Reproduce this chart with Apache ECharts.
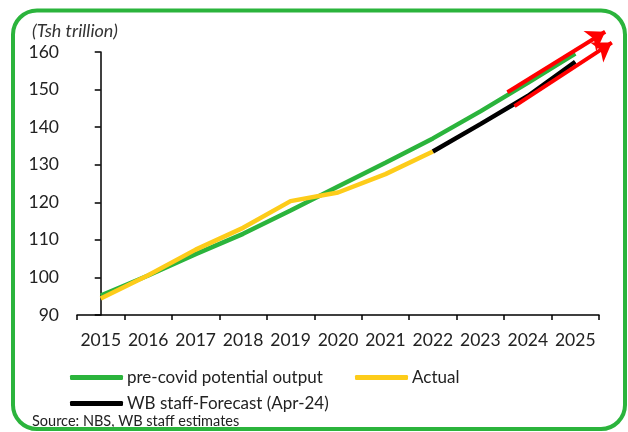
<!DOCTYPE html>
<html>
<head>
<meta charset="utf-8">
<script src="https://cdn.jsdelivr.net/npm/echarts@6/dist/echarts.min.js"></script>
<style>
  html, body { margin: 0; padding: 0; background: #fff; }
  #graph1 { width: 628px; height: 432px; }
</style>
</head>
<body>
<div id="graph1"></div>
<script>
// years on the x axis
var years = ['2015', '2016', '2017', '2018', '2019', '2020', '2021', '2022', '2023', '2024', '2025'];
// pre-covid potential output
var potential = [95.2, 100.5, 106.2, 111.6, 117.8, 124.2, 130.5, 137.0, 144.2, 151.8, 159.6];
// actual
var actual = [94.4, 100.6, 107.4, 113.2, 120.3, 122.6, 127.5, 133.5];
// WB staff forecast (Apr-24)
var forecast = [null, null, null, null, null, null, null, 133.5, 140.8, 148.3, 157.4];
// red arrows, [year index, value] start -> tip
var arrowUpper = [[8.57, 149.3], [10.63, 165.4]];
var arrowLower = [[8.72, 145.6], [10.77, 162.5]];

var fontName = 'Lato';
var greenCol = '#2bb43c';
var yellowCol = '#fdcc1a';

function drawChart() {
    var myChart = echarts.init(document.getElementById('graph1'));

    var legendBase = {
        orient: 'horizontal',
        padding: 0,
        itemWidth: 53,
        itemHeight: 5,
        itemGap: 6,
        icon: 'roundRect',
        textStyle: { fontFamily: fontName, fontSize: 17, color: '#222', padding: [0, 0, 0, -1] }
    };

    var option = {
        animation: false,
        backgroundColor: '#fff',
        title: [
            {
                text: '(Tsh trillion)',
                left: 32, top: 22, padding: 0,
                textStyle: { fontFamily: fontName, fontSize: 18, fontStyle: 'italic', fontWeight: 'normal', color: '#333' }
            },
            {
                text: 'Source: NBS, WB staff estimates',
                left: 32, top: 414, padding: 0,
                textStyle: { fontFamily: fontName, fontSize: 14.5, fontWeight: 'normal', color: '#222' }
            }
        ],
        legend: [
            Object.assign({ left: 70, top: 369, data: ['pre-covid potential output'] }, legendBase),
            Object.assign({ left: 355, top: 369, data: ['Actual'] }, legendBase),
            Object.assign({ left: 70, top: 395, data: ['WB staff-Forecast (Apr-24)'] }, legendBase)
        ],
        grid: { left: 77, right: 29, top: 52, bottom: 117, containLabel: false },
        xAxis: [
            {
                type: 'category',
                data: years,
                boundaryGap: true,
                axisLine: { lineStyle: { color: '#000', width: 1.5 } },
                axisTick: { show: true, length: 5, inside: false, lineStyle: { color: '#000', width: 1.5 } },
                axisLabel: { fontFamily: fontName, fontSize: 17.5, color: '#222', margin: 16, interval: 0 },
                splitLine: { show: false }
            },
            {
                type: 'value',
                min: -0.5,
                max: 10.5,
                show: false
            }
        ],
        yAxis: {
            type: 'value',
            min: 90,
            max: 160,
            interval: 10,
            axisLine: { show: true, lineStyle: { color: '#000', width: 1.5 } },
            axisTick: { show: true, length: 6, lineStyle: { color: '#000', width: 1.5 } },
            axisLabel: { fontFamily: fontName, fontSize: 17.5, color: '#222', margin: 18 },
            splitLine: { show: false }
        },
        series: [
            {
                name: 'pre-covid potential output',
                type: 'line',
                data: potential,
                symbol: 'none',
                itemStyle: { color: greenCol },
                lineStyle: { color: greenCol, width: 4.5 }
            },
            {
                name: 'Actual',
                type: 'line',
                data: actual,
                symbol: 'none',
                z: 3,
                itemStyle: { color: yellowCol },
                lineStyle: { color: yellowCol, width: 4.5 }
            },
            {
                name: 'WB staff-Forecast (Apr-24)',
                type: 'line',
                data: forecast,
                symbol: 'none',
                z: 3,
                itemStyle: { color: '#000' },
                lineStyle: { color: '#000', width: 4.5 }
            },
            {
                name: 'arrows',
                type: 'lines',
                coordinateSystem: 'cartesian2d',
                xAxisIndex: 1,
                yAxisIndex: 0,
                clip: false,
                silent: true,
                z: 5,
                symbol: ['none', 'arrow'],
                symbolSize: [18, 18],
                lineStyle: { color: '#ff0000', width: 4, opacity: 1, curveness: 0 },
                data: [
                    { coords: arrowUpper },
                    { coords: arrowLower }
                ]
            }
        ],
        graphic: [
            {
                type: 'rect',
                shape: { x: 13, y: 10.5, width: 612, height: 418.5, r: 24 },
                style: { fill: 'none', stroke: greenCol, lineWidth: 4 },
                z: 100
            }
        ]
    };

    if (option && typeof option === "object") {
        myChart.setOption(option, true);
    }
}

drawChart();
</script>
</body>
</html>
